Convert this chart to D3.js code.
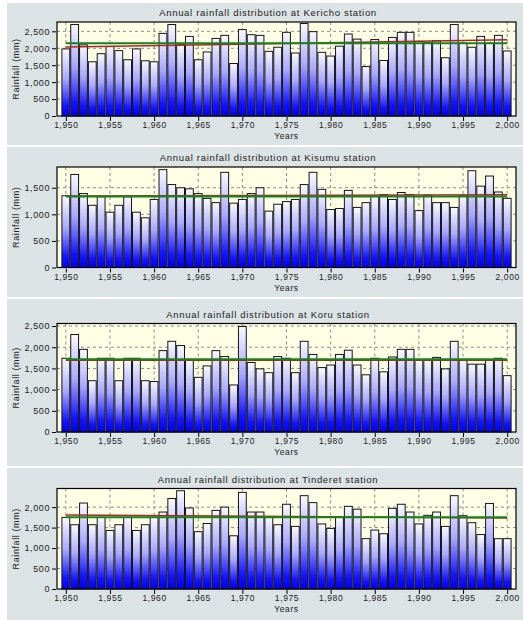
<!DOCTYPE html>
<html>
<head>
<meta charset="utf-8">
<script src="https://cdn.jsdelivr.net/npm/d3@7"></script>
<style>
    body { margin: 0; background: #ffffff; }
    svg text { font-family: "Liberation Sans", Arial, sans-serif; fill: #222; }
</style>
</head>
<body>
<div id="rain_chart"></div>
<script>
// Years on the x axis (one bar per year)
const years = d3.range(1950, 2001);

const stationNames = ["Kericho", "Kisumu", "Koru", "Tinderet"];

// Annual rainfall (mm), 1950 -> 2000
const kerichoRain = [1980, 2700, 2100, 1600, 1840, 2050, 1930, 1660, 1980, 1630,
    1600, 2440, 2700, 2100, 2350, 1660, 1890, 2290, 2380, 1550,
    2550, 2400, 2380, 1910, 2030, 2470, 1860, 2730, 2490, 1880,
    1770, 2060, 2420, 2270, 1460, 2260, 1640, 2320, 2470, 2470,
    2200, 2160, 2220, 1720, 2700, 2150, 2030, 2350, 2150, 2380,
    1920];
const kisumuRain = [1350, 1750, 1390, 1170, 1330, 1040, 1170, 1330, 1040, 935,
    1280, 1840, 1560, 1500, 1480, 1390, 1300, 1220, 1790, 1210,
    1280, 1390, 1500, 1060, 1190, 1240, 1280, 1560, 1790, 1470,
    1090, 1110, 1450, 1130, 1220, 1340, 1370, 1280, 1410, 1370,
    1070, 1360, 1220, 1220, 1130, 1350, 1820, 1530, 1720, 1420,
    1300];
const koruRain = [1740, 2300, 1950, 1210, 1740, 1740, 1210, 1740, 1740, 1210,
    1190, 1920, 2140, 2040, 1700, 1290, 1560, 1920, 1780, 1110,
    2490, 1640, 1490, 1400, 1780, 1740, 1400, 2140, 1830, 1520,
    1580, 1830, 1930, 1580, 1350, 1740, 1420, 1770, 1950, 1950,
    1700, 1700, 1760, 1490, 2140, 1700, 1600, 1600, 1700, 1740,
    1330];
const tinderetRain = [1750, 1570, 2100, 1570, 1750, 1430, 1570, 1750, 1430, 1570,
    1750, 1880, 2210, 2400, 1980, 1400, 1600, 1920, 2000, 1300,
    2360, 1880, 1880, 1750, 1570, 2070, 1530, 2280, 2110, 1590,
    1480, 1750, 2020, 1950, 1230, 1440, 1350, 1970, 2070, 1880,
    1590, 1800, 1880, 1530, 2280, 1790, 1620, 1330, 2090, 1230,
    1230];

// Green line = long term mean, red line = trend (value at 1950 and at 2000)
const meanRain = [2145, 1335, 1715, 1755];
const trendRain = [[2035, 2250], [1345, 1370], [1690, 1695], [1810, 1735]];

// y axis top and tick labels of each panel
const yMax = [2775, 1890, 2560, 2455];
const yTicks = [
    [0, 500, 1000, 1500, 2000, 2500],
    [0, 500, 1000, 1500],
    [0, 500, 1000, 1500, 2000, 2500],
    [0, 500, 1000, 1500, 2000]
];
const xTicks = [1950, 1955, 1960, 1965, 1970, 1975, 1980, 1985, 1990, 1995, 2000];

const rainSeries = [kerichoRain, kisumuRain, koruRain, tinderetRain];

// Panel boxes and plot areas (pixels) - the panels are not all the same height
const panels = [
    { top: 3, bottom: 145, plotTop: 22, plotBottom: 116 },
    { top: 147, bottom: 297, plotTop: 167, plotBottom: 267.5 },
    { top: 299, bottom: 466, plotTop: 323.5, plotBottom: 432 },
    { top: 468, bottom: 620, plotTop: 488.5, plotBottom: 589 }
];

const width = 523, height = 620;
const plotLeft = 57, plotRight = 516;

const svg = d3.select("#rain_chart").append("svg")
    .attr("width", width)
    .attr("height", height);

// Vertical gradient used by every bar (white at the top, blue at the bottom)
const grad = svg.append("defs").append("linearGradient")
    .attr("id", "barFill")
    .attr("x1", 0).attr("y1", 0).attr("x2", 0).attr("y2", 1);
grad.append("stop").attr("offset", "0%").attr("stop-color", "#fafaff");
grad.append("stop").attr("offset", "45%").attr("stop-color", "#a8a8ff");
grad.append("stop").attr("offset", "85%").attr("stop-color", "#1414ff");
grad.append("stop").attr("offset", "100%").attr("stop-color", "#0000f2");

// Draw one station panel
function create_rain_panel(i) {
    const p = panels[i];
    const data = rainSeries[i];
    const g = svg.append("g");

    // Panel background
    g.append("rect")
        .attr("x", 7).attr("y", p.top)
        .attr("width", width - 7).attr("height", p.bottom - p.top)
        .attr("fill", "#dce3e5");

    const x = d3.scaleLinear()
        .domain([1949, 2001])
        .range([plotLeft, plotRight]);
    const y = d3.scaleLinear()
        .domain([0, yMax[i]])
        .range([p.plotBottom, p.plotTop]);

    const step = x(1951) - x(1950);

    // Plot background
    g.append("rect")
        .attr("x", plotLeft).attr("y", p.plotTop)
        .attr("width", plotRight - plotLeft).attr("height", p.plotBottom - p.plotTop)
        .attr("fill", "#ffffe6");

    // Dashed grid lines
    g.selectAll(".vgrid")
        .data(xTicks)
        .enter().append("line")
        .attr("x1", d => x(d)).attr("x2", d => x(d))
        .attr("y1", p.plotTop).attr("y2", p.plotBottom)
        .attr("stroke", "#8c8c8c")
        .attr("stroke-dasharray", "3,3");
    g.selectAll(".hgrid")
        .data(yTicks[i].slice(1))
        .enter().append("line")
        .attr("x1", plotLeft).attr("x2", plotRight)
        .attr("y1", d => y(d)).attr("y2", d => y(d))
        .attr("stroke", "#8c8c8c")
        .attr("stroke-dasharray", "3,3");

    // Bars
    g.selectAll(".bar")
        .data(data)
        .enter().append("rect")
        .attr("x", (d, k) => x(years[k]) - step / 2 + 0.5)
        .attr("y", d => y(d))
        .attr("width", step - 1)
        .attr("height", d => y(0) - y(d))
        .attr("fill", "url(#barFill)")
        .attr("stroke", "#151515")
        .attr("stroke-width", 1);

    // Trend (red) and mean (green) lines
    g.append("line")
        .attr("x1", x(1950)).attr("x2", x(2000))
        .attr("y1", y(trendRain[i][0])).attr("y2", y(trendRain[i][1]))
        .attr("stroke", "#b22222")
        .attr("stroke-width", 1.5);
    g.append("line")
        .attr("x1", x(1950)).attr("x2", x(2000))
        .attr("y1", y(meanRain[i])).attr("y2", y(meanRain[i]))
        .attr("stroke", "#12861a")
        .attr("stroke-width", 2);

    // Plot frame
    g.append("rect")
        .attr("x", plotLeft).attr("y", p.plotTop)
        .attr("width", plotRight - plotLeft).attr("height", p.plotBottom - p.plotTop)
        .attr("fill", "none")
        .attr("stroke", "#000")
        .attr("stroke-width", 1.2);

    // Axes
    const yAxis = d3.axisLeft(y)
        .tickValues(yTicks[i])
        .tickFormat(d3.format(","))
        .tickSize(4)
        .tickPadding(2)
        .tickSizeOuter(0);
    g.append("g")
        .attr("transform", "translate(" + (plotLeft - 1) + ",0)")
        .call(yAxis)
        .call(a => a.select(".domain").remove())
        .style("font-size", "9px")
        .style("letter-spacing", "0.6px");

    const xAxis = d3.axisBottom(x)
        .tickValues(xTicks)
        .tickFormat(d3.format(","))
        .tickSize(4)
        .tickPadding(1)
        .tickSizeOuter(0);
    g.append("g")
        .attr("transform", "translate(0," + (p.plotBottom + 1) + ")")
        .call(xAxis)
        .call(a => a.select(".domain").remove())
        .style("font-size", "8.5px")
        .style("letter-spacing", "0.6px");

    // Title and axis labels
    g.append("text")
        .attr("text-anchor", "middle")
        .attr("x", 268)
        .attr("y", p.plotTop - 6)
        .style("font-size", "9.5px")
        .style("letter-spacing", "0.7px")
        .text("Annual rainfall distribution at " + stationNames[i] + " station");

    g.append("text")
        .attr("text-anchor", "middle")
        .attr("x", (plotLeft + plotRight) / 2)
        .attr("y", p.plotBottom + 23)
        .style("font-size", "8.5px")
        .style("letter-spacing", "0.6px")
        .text("Years");

    g.append("text")
        .attr("text-anchor", "middle")
        .attr("transform", "rotate(-90)")
        .attr("x", -(p.plotTop + p.plotBottom) / 2)
        .attr("y", 19)
        .style("font-size", "9px")
        .style("letter-spacing", "0.6px")
        .text("Rainfall (mm)");
}

stationNames.forEach((s, i) => create_rain_panel(i));
</script>
</body>
</html>
